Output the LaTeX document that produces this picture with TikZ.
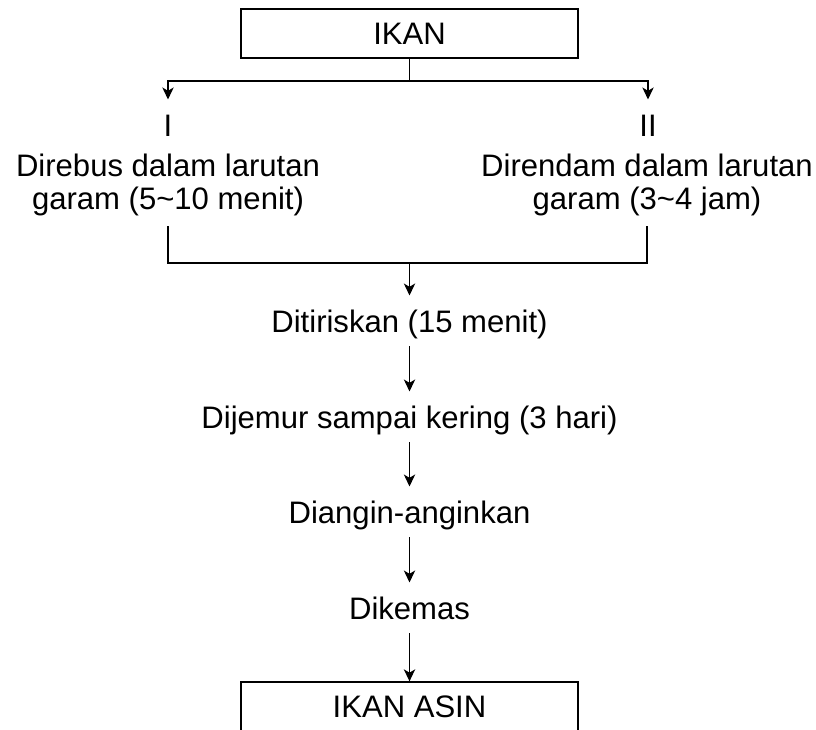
\documentclass[tikz,border=0pt]{standalone}
\usepackage{fontspec}
\setmainfont{Liberation Sans}
\usetikzlibrary{positioning,arrows.meta}

\begin{document}
\begin{tikzpicture}[
  x=0.75pt, y=-0.75pt,
  font=\fontsize{23.3}{24.5}\selectfont,
  kotak/.style={draw, line width=1pt, minimum width=252.75pt, minimum height=36.75pt, inner sep=0pt},
  langkah/.style={inner xsep=0pt, inner ysep=10.5pt, text height=16.7pt, text depth=0pt, anchor=base},
  cabang2/.style={align=center, inner xsep=0pt, inner ysep=8pt, anchor=north},
  panah/.style={-{Stealth[length=9pt,width=8.5pt,inset=2.5pt]}},
  garis/.style={line width=1pt}
]
  % --- latar
  \fill[white] (0,0) rectangle (816,729);
  \useasboundingbox (0,0) rectangle (816,729);

  % --- bahan awal
  \node[kotak] (ikan) at (409.5,33.5) {IKAN};
  \coordinate (pisah) at (409.5,81);

  % --- dua cara
  \node[langkah] (satu) at (168,136) {I};
  \node[langkah] (dua) at (648,136) {II};
  \node[cabang2] (rebus) at (168,143)
        {Direbus dalam larutan\\garam (5\textasciitilde 10 menit)};
  \node[cabang2] (rendam) at (647,143)
        {Direndam dalam larutan\\garam (3\textasciitilde 4 jam)};
  \draw[garis] (ikan) -- (pisah);
  \draw[garis, panah] (pisah) -| (satu);
  \draw[garis, panah] (pisah) -| (dua);

  % --- gabung
  \coordinate (gabung) at (409.5,263);
  \draw[garis] (rebus) |- (gabung);
  \draw[garis] (rendam) |- (gabung);

  % --- langkah berikutnya
  \node[langkah] (tiris) at (409.5,332) {Ditiriskan (15 menit)};
  \node[langkah] (jemur) at (409.5,428) {Dijemur sampai kering (3 hari)};
  \node[langkah] (angin) at (409.5,523) {Diangin-anginkan};
  \node[langkah] (kemas) at (409.5,619) {Dikemas};
  \node[kotak, minimum height=37.5pt] (asin) at (409.5,707) {IKAN ASIN};

  \draw[garis, panah] (gabung) -- (tiris);
  \draw[garis, panah] (tiris) -- (jemur);
  \draw[garis, panah] (jemur) -- (angin);
  \draw[garis, panah] (angin) -- (kemas);
  \draw[garis, panah] (kemas) -- (asin);
\end{tikzpicture}
\end{document}
